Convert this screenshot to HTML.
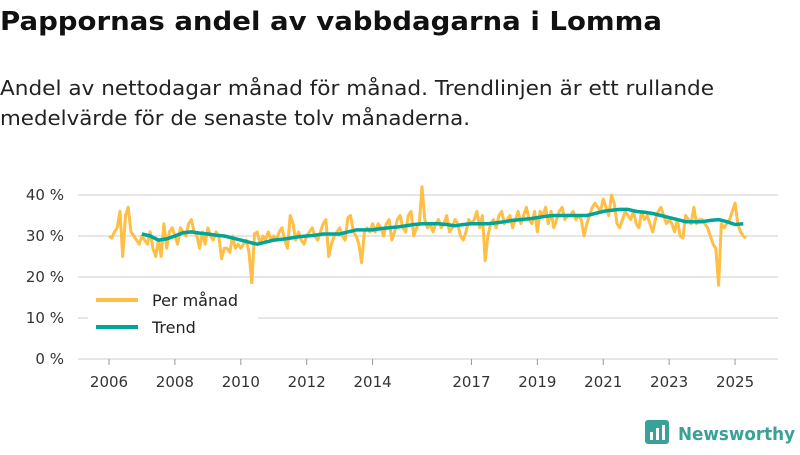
<!DOCTYPE html>
<html><head><meta charset="utf-8"><style>
body{margin:0;background:#fff;font-family:"Liberation Sans","DejaVu Sans",sans-serif;}
svg text{font-family:"DejaVu Sans","Liberation Sans",sans-serif;}
</style></head><body>
<svg width="800" height="450" xmlns="http://www.w3.org/2000/svg">
<text x="0" y="30" font-size="26" font-weight="bold" fill="#111" textLength="662" lengthAdjust="spacingAndGlyphs">Pappornas andel av vabbdagarna i Lomma</text>
<text x="0" y="95" font-size="20.5" fill="#222" textLength="714" lengthAdjust="spacingAndGlyphs">Andel av nettodagar månad för månad. Trendlinjen är ett rullande</text>
<text x="0" y="125" font-size="20.5" fill="#222" textLength="470" lengthAdjust="spacingAndGlyphs">medelvärde för de senaste tolv månaderna.</text>
<g id="grid"></g><g id="xaxis"></g><g id="series"></g>
<g>
<rect x="88" y="284" width="170" height="60" fill="#fff"/>
<line x1="96" y1="300" x2="138" y2="300" stroke="#ffbe45" stroke-width="4"/>
<text x="152" y="306" font-size="16" fill="#222">Per månad</text>
<line x1="96" y1="327" x2="138" y2="327" stroke="#00a599" stroke-width="4"/>
<text x="152" y="333" font-size="16" fill="#222">Trend</text>
</g>
<g>
<rect x="645" y="420" width="24" height="24" rx="3" fill="#3aa198"/>
<rect x="650" y="432" width="3" height="8" fill="#fff"/><rect x="656" y="428" width="3" height="12" fill="#fff"/><rect x="662" y="425" width="3" height="15" fill="#fff"/>
<text x="678" y="440" font-size="18" font-weight="bold" fill="#3aa198" textLength="117" lengthAdjust="spacingAndGlyphs">Newsworthy</text>
</g>
</svg>
<script>
const years=[2006,2007,2008,2009,2010,2011,2012,2013,2014,2015,2016,2017,2018,2019,2020,2021,2022,2023,2024,2025];
const monthly=[
30,29.5,31,32,36,25,35,37,31,30,29,28,
30,29,28,31,27,25,29,25,33,27,31,32,
30,28,32,31,30,33,34,31,30,27,31,28,
32,30,29,31,30,24.5,27,27,26,30,27,28,
27,28,29,26,18.5,30.5,31,28,30,29,31,29,
30,29,31,32,29,27,35,33,29,31,29,28,
30,31,32,30,29,31,33,34,25,28,30,31,
32,30,29,34.5,35,31,30,28,23.5,31,32,31,
33,31,33,32,30,33,34,29,31,34,35,32,
31,35,36,30,32,33,42,34,32,33,31,33,
34,32,33,35,31,32,34,33,30,29,31,34,
33,34,36,32,35,24,30,33,34,32,35,36,
33,34,35,32,34,36,33,35,37,34,33,36,
31,36,35,37,33,36,32,34,36,37,34,35,
35,36,34,35,34,30,33,35,37,38,37,36,
39,37,35,40,38,33,32,34,36,35,34,36,
33,32,36,34,35,33,31,34,36,37,35,33,
34,33,31,34,30,29.5,35,34,33,37,33,34,
34,33,32,30,28,27,18,33,32,33,34,36,
38,33,31,30,29.5];
const trendStart=2007;
const trendQuarterly=[30.5,30,29,29.3,30,30.8,31,30.7,30.5,30.2,30,29.5,29,28.5,28,28.5,
29,29.2,29.5,29.8,30,30.2,30.5,30.5,30.5,31,31.5,31.5,31.5,31.8,32,32.2,32.5,32.8,33,33,
33,32.8,32.5,32.8,33,33,33,33.2,33.5,33.8,34,34.2,34.5,34.8,35,35,35,35,35,35.5,36,36.3,36.5,36.5,
36,35.8,35.5,35,34.5,34,33.5,33.5,33.5,33.8,34,33.5,32.8,33];
const yTicks=[0,10,20,30,40];
const xTicks=[2006,2008,2010,2012,2014,2017,2019,2021,2023,2025];
const NS="http://www.w3.org/2000/svg";
const X=t=>109+(t-2006)*32.95;
const Y=v=>359-v*4.1;
function mk(tag,attrs,parent){const e=document.createElementNS(NS,tag);for(const k in attrs)e.setAttribute(k,attrs[k]);document.getElementById(parent).appendChild(e);return e;}
yTicks.forEach(v=>{
 const l=mk('line',{x1:78,x2:778,y1:Y(v),y2:Y(v),stroke:'#ddd','stroke-width':1.5},'grid');
 
 
 const t=mk('text',{x:64,y:Y(v)+5,'font-size':15,fill:'#333','text-anchor':'end'},'grid');
 t.textContent=v+' %';
 
 
});
xTicks.forEach(y=>{
 const l=mk('line',{x1:X(y),x2:X(y),y1:359,y2:365,stroke:'#999','stroke-width':1},'xaxis');
 
 
 const t=mk('text',{x:X(y),y:387,'font-size':15,fill:'#333','text-anchor':'middle'},'xaxis');
 t.textContent=y;
 
 
});
const p1=monthly.map((v,i)=>X(years[0]+i/12).toFixed(1)+','+Y(v).toFixed(1)).join(' ');
const pl=mk('polyline',{points:p1,fill:'none',stroke:'#ffbe45','stroke-width':3,'stroke-linejoin':'round'},'series');


const p2=trendQuarterly.map((v,i)=>X(trendStart+i/4).toFixed(1)+','+Y(v).toFixed(1)).join(' ');
const tl=mk('polyline',{points:p2,fill:'none',stroke:'#00a599','stroke-width':3.5,'stroke-linejoin':'round'},'series');


</script>
</body></html>
